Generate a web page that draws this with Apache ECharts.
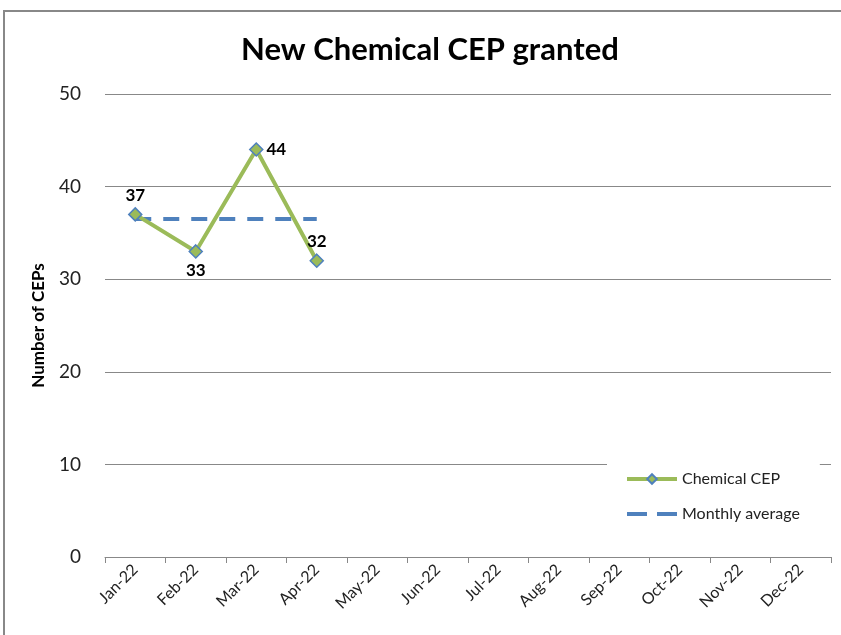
<!DOCTYPE html>
<html>
<head>
<meta charset="utf-8">
<script src="https://cdn.jsdelivr.net/npm/echarts@6/dist/echarts.min.js"></script>
<style>
  html, body { margin: 0; padding: 0; background: #fff; }
  #main { width: 841px; height: 635px; }
</style>
</head>
<body>
<div id="main"></div>
<script>
// data
var months = ["Jan-22", "Feb-22", "Mar-22", "Apr-22", "May-22", "Jun-22",
  "Jul-22", "Aug-22", "Sep-22", "Oct-22", "Nov-22", "Dec-22"];
var chemicalCep = [37, 33, 44, 32];
var monthlyAverage = [36.5, 36.5, 36.5, 36.5];
var labelPos = ["top", "bottom", "right", "top"];

var font = "Lato, 'Open Sans', sans-serif";
var chart = echarts.init(document.getElementById("main"));

var option = {
  animation: false,
  textStyle: { fontFamily: font },
  title: {
    text: "New Chemical CEP granted",
    left: 236,
    top: 29,
    textStyle: { fontSize: 31, fontWeight: "bold", color: "#000", fontFamily: font }
  },
  graphic: [{
    type: "rect",
    shape: { x: 4, y: 11, width: 860, height: 650 },
    style: { fill: "none", stroke: "#888", lineWidth: 2 },
    z: -1
  }],
  grid: { left: 105, right: 10, top: 94, bottom: 78 },
  legend: {
    orient: "vertical",
    left: 607,
    top: 461,
    padding: [10, 20, 10, 18],
    backgroundColor: "#fff",
    itemWidth: 50,
    itemHeight: 12,
    itemGap: 19,
    textStyle: { fontSize: 16, color: "#222", fontFamily: font },
    data: [
      { name: "Chemical CEP", lineStyle: { width: 4, color: "#9BBB59" } },
      { name: "Monthly average", icon: "path://M0,0h20v4h-20z M30,0h20v4h-20z",
        itemStyle: { color: "#4F81BD" } }
    ]
  },
  xAxis: {
    type: "category",
    data: months,
    boundaryGap: true,
    axisLine: { lineStyle: { color: "#888", width: 1 } },
    axisTick: { show: true, length: 6, lineStyle: { color: "#888" } },
    axisLabel: { rotate: 45, fontSize: 16, color: "#222", margin: 10, interval: 0 }
  },
  yAxis: {
    type: "value",
    min: 0,
    max: 50,
    interval: 10,
    name: "Number of CEPs",
    nameLocation: "middle",
    nameGap: 58,
    nameTextStyle: { fontSize: 17, fontWeight: "bold", color: "#000" },
    axisLine: { show: false },
    axisTick: { show: false },
    axisLabel: { fontSize: 19, color: "#222", margin: 24 },
    splitLine: { lineStyle: { color: "#888", width: 1 } }
  },
  series: [{
    name: "Monthly average",
    type: "line",
    data: monthlyAverage,
    symbol: "none",
    lineStyle: { color: "#4F81BD", width: 4, type: [16, 12] },
    itemStyle: { color: "#4F81BD" },
    z: 2
  }, {
    name: "Chemical CEP",
    type: "line",
    data: chemicalCep.map(function (v, i) {
      return { value: v, label: { position: labelPos[i] } };
    }),
    symbol: "diamond",
    symbolSize: 13,
    lineStyle: { color: "#9BBB59", width: 4 },
    itemStyle: { color: "#9BBB59", borderColor: "#4F81BD", borderWidth: 1.5 },
    label: { show: true, fontSize: 17, fontWeight: "bold", color: "#000", distance: 3 },
    z: 3
  }]
};
chart.setOption(option);
</script>
</body>
</html>
